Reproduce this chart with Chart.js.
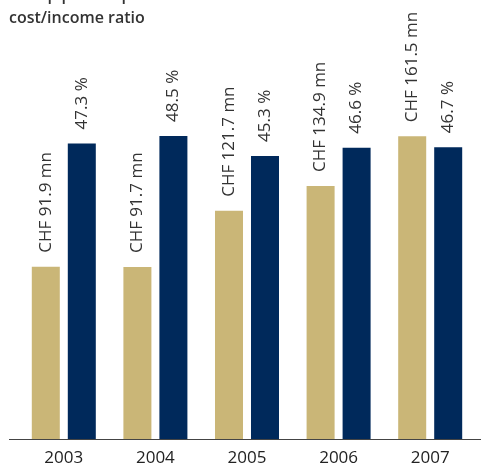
<!DOCTYPE html>
<html>
<head>
<meta charset="utf-8">
<script src="https://cdn.jsdelivr.net/npm/chart.js@4/dist/chart.umd.min.js"></script>
<style>
  html, body { margin: 0; padding: 0; background: #ffffff; }
  #wrap { width: 481px; height: 468px; position: relative; }
</style>
</head>
<body>
<div id="wrap"><canvas id="c" width="481" height="468"></canvas></div>
<script>
// Years shown on the category axis
const years = ['2003', '2004', '2005', '2006', '2007'];
// Pre-tax profit, CHF millions
const profit = [91.9, 91.7, 121.7, 134.9, 161.5];
// Cost/income ratio, percent
const costIncome = [47.3, 48.5, 45.3, 46.6, 46.7];

const GOLD = '#cab677';
const NAVY = '#00295b';
const FONT = '"Open Sans", "Noto Sans", sans-serif';

// Header lines above the plot (the first one runs off the top edge)
const headerPlugin = {
  id: 'header',
  beforeDraw(chart) {
    const ctx = chart.ctx;
    ctx.save();
    ctx.fillStyle = '#333333';
    ctx.font = '600 16px ' + FONT;
    ctx.textAlign = 'left';
    ctx.textBaseline = 'alphabetic';
    ctx.fillText('Group pre-tax profit and', 9, 0);
    ctx.fillText('cost/income ratio', 9, 23);
    ctx.restore();
  }
};

// Full-width baseline under the bars
const baselinePlugin = {
  id: 'baseline',
  afterDatasetsDraw(chart) {
    const ctx = chart.ctx;
    const y = chart.scales.y1.getPixelForValue(0);
    ctx.save();
    ctx.strokeStyle = '#444444';
    ctx.lineWidth = 1;
    ctx.beginPath();
    ctx.moveTo(9, Math.round(y) + 0.5);
    ctx.lineTo(481, Math.round(y) + 0.5);
    ctx.stroke();
    ctx.restore();
  }
};

// Vertical value labels above each bar
const valueLabelPlugin = {
  id: 'valueLabels',
  afterDatasetsDraw(chart) {
    const ctx = chart.ctx;
    ctx.save();
    ctx.fillStyle = '#333333';
    ctx.font = '17px ' + FONT;
    ctx.textAlign = 'left';
    ctx.textBaseline = 'middle';
    chart.data.datasets.forEach((ds, di) => {
      const meta = chart.getDatasetMeta(di);
      meta.data.forEach((bar, i) => {
        const v = ds.data[i];
        const text = di === 0 ? 'CHF ' + v.toFixed(1) + ' mn' : v.toFixed(1) + ' %';
        ctx.save();
        ctx.translate(bar.x, bar.y - 14);
        ctx.rotate(-Math.PI / 2);
        ctx.fillText(text, 0, 0);
        ctx.restore();
      });
    });
    ctx.restore();
  }
};

new Chart(document.getElementById('c'), {
  type: 'bar',
  data: {
    labels: years,
    datasets: [
      {
        label: 'Pre-tax profit',
        data: profit,
        backgroundColor: GOLD,
        yAxisID: 'y1',
        categoryPercentage: 0.786,
        barPercentage: 0.778
      },
      {
        label: 'Cost/income ratio',
        data: costIncome,
        backgroundColor: NAVY,
        yAxisID: 'y2',
        categoryPercentage: 0.786,
        barPercentage: 0.778
      }
    ]
  },
  options: {
    responsive: false,
    animation: false,
    devicePixelRatio: 1,
    layout: { padding: { left: 18, right: 5, top: 64, bottom: 0 } },
    plugins: {
      legend: { display: false },
      tooltip: { enabled: false },
      title: { display: false }
    },
    scales: {
      x: {
        grid: { display: false, drawTicks: false },
        border: { display: false },
        ticks: {
          color: '#222222',
          font: { family: FONT, size: 17 },
          padding: 9,
          maxRotation: 0
        },
        afterFit(scale) { scale.height = 29; }
      },
      y1: {
        display: false,
        min: 0,
        max: 200
      },
      y2: {
        display: false,
        min: 0,
        max: 60
      }
    }
  },
  plugins: [headerPlugin, baselinePlugin, valueLabelPlugin]
});
</script>
</body>
</html>
